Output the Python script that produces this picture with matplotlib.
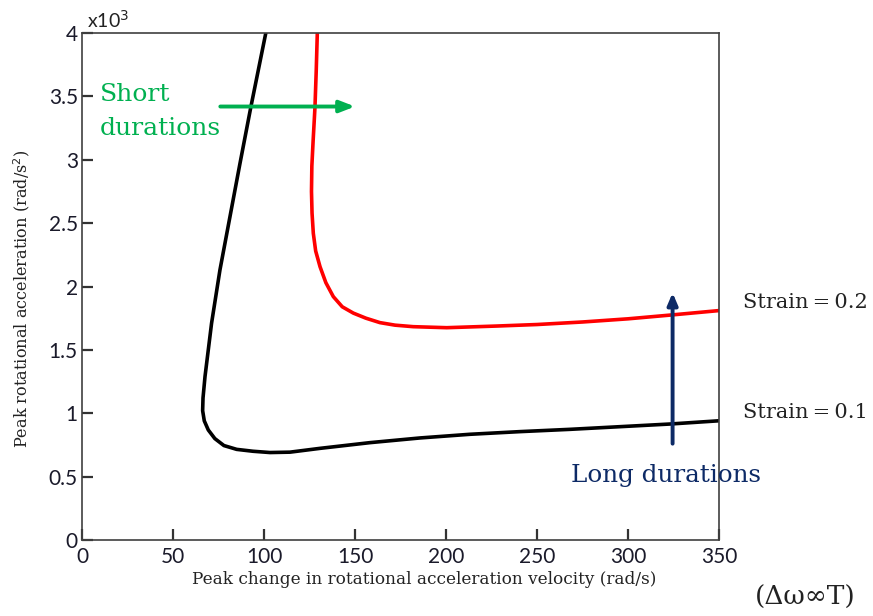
import matplotlib
matplotlib.use("Agg")
import matplotlib.pyplot as plt

# Strain = 0.1 curve (black): x in rad/s, y in 10^3 rad/s^2
strain01_x = [101.0, 92.7, 86.8, 81.3, 75.8, 71.2, 67.6, 66.5, 66.3, 67.2, 69.4, 73.0, 78.0, 85.0, 94.0, 103.3, 114.3, 130.8, 158.2, 185.7, 213.2, 240.7, 268.1, 295.6, 323.1, 350.5]
strain01_y = [4.00, 3.41, 2.97, 2.55, 2.13, 1.71, 1.29, 1.12, 1.02, 0.94, 0.868, 0.80, 0.745, 0.715, 0.700, 0.690, 0.693, 0.723, 0.768, 0.805, 0.834, 0.855, 0.873, 0.894, 0.915, 0.941]

# Strain = 0.2 curve (red)
strain02_x = [129.3, 128.7, 128.0, 127.0, 126.3, 126.1, 126.4, 127.1, 128.4, 130.8, 134.0, 138.1, 143.0, 149.1, 156.0, 163.7, 172.0, 182.0, 200.4, 227.8, 250.0, 275.0, 300.0, 323.6, 350.0]
strain02_y = [4.00, 3.70, 3.41, 3.15, 2.95, 2.75, 2.58, 2.42, 2.28, 2.156, 2.03, 1.92, 1.84, 1.79, 1.75, 1.715, 1.695, 1.683, 1.675, 1.688, 1.700, 1.720, 1.745, 1.775, 1.810]

x_ticks = [0, 50, 100, 150, 200, 250, 300, 350]
y_ticks = [0, 0.5, 1, 1.5, 2, 2.5, 3, 3.5, 4]
y_tick_labels = ["0", "0.5", "1", "1.5", "2", "2.5", "3", "3.5", "4"]

serif = ["DejaVu Serif"]
sans = ["Lato", "DejaVu Sans"]

fig = plt.figure(figsize=(8.73, 6.16), dpi=100)
ax = fig.add_axes([0.0939, 0.1234, 0.7297, 0.823])

ax.plot(strain01_x, strain01_y, color="black", lw=2.6, solid_capstyle="round", solid_joinstyle="round")
ax.plot(strain02_x, strain02_y, color="#ff0000", lw=2.6, solid_capstyle="round", solid_joinstyle="round")

ax.set_xlim(0, 350)
ax.set_ylim(0, 4)
ax.set_xticks(x_ticks)
ax.set_xticklabels([str(v) for v in x_ticks], fontfamily=sans, fontsize=15, color="#1a1a2a")
ax.set_yticks(y_ticks)
ax.set_yticklabels(y_tick_labels, fontfamily=sans, fontsize=15, color="#1a1a2a")
ax.tick_params(direction="in", length=8, width=1.6, color="#333333")
ax.tick_params(axis="x", pad=5)
ax.tick_params(axis="y", pad=3)
for s in ax.spines.values():
    s.set_color("#404040")
    s.set_linewidth(1.2)

fig.text(424 / 873, 1 - 580 / 616, "Peak change in rotational acceleration velocity (rad/s)",
         fontfamily=serif, fontsize=12.2, color="#222222", ha="center", va="center")
fig.text(22 / 873, 1 - 299 / 616, "Peak rotational acceleration (rad/s$^2$)",
         fontfamily=serif, fontsize=11.6, color="#222222", ha="center", va="center", rotation=90)

fig.text(87 / 873, 1 - 28 / 616, r"x10$^3$", fontfamily=sans, fontsize=14, color="#222222", ha="left", va="baseline")

# Short durations arrow
ax.annotate("", xy=(150, 3.42), xytext=(76, 3.42),
            arrowprops=dict(arrowstyle="-|>,head_length=0.9,head_width=0.35", color="#00b050", lw=2.8, shrinkA=0, shrinkB=0))
ax.text(9.9, 3.464, "Short", fontfamily=serif, fontsize=18, color="#00b050", ha="left", va="baseline")
ax.text(9.9, 3.195, "durations", fontfamily=serif, fontsize=18, color="#00b050", ha="left", va="baseline")

# Long durations arrow
ax.annotate("", xy=(324.5, 1.95), xytext=(324.5, 0.76),
            arrowprops=dict(arrowstyle="-|>,head_length=0.7,head_width=0.3", color="#0d2a66", lw=2.8, shrinkA=0, shrinkB=0))
ax.text(268.5, 0.51, "Long durations", fontfamily=serif, fontsize=17.7, color="#0d2a66", ha="left", va="center")

fig.text(743 / 873, 1 - 302 / 616, "Strain\u2009=\u20090.2", fontfamily=serif, fontsize=15, color="#222222", ha="left", va="center")
fig.text(743 / 873, 1 - 413 / 616, "Strain\u2009=\u20090.1", fontfamily=serif, fontsize=15, color="#222222", ha="left", va="center")
fig.text(755 / 873, 1 - 597 / 616, "(\u0394\u03c9\u221eT)", fontfamily=serif, fontsize=19, color="#222222", ha="left", va="center")

fig.savefig("out.png", dpi=100)
